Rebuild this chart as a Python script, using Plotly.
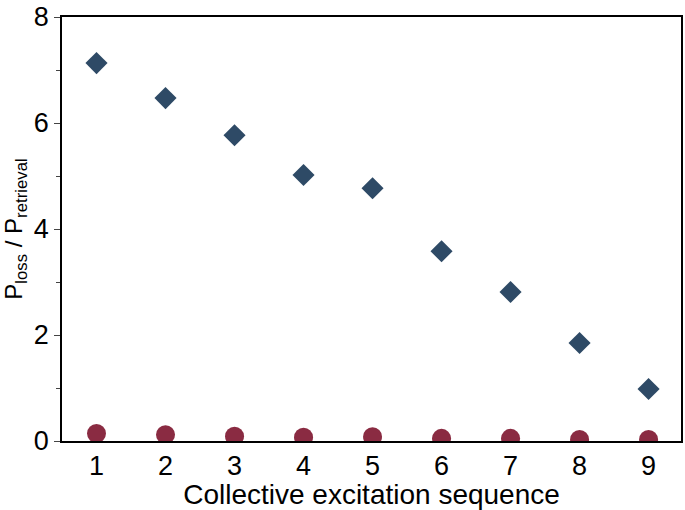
import plotly.graph_objects as go

seq = [1, 2, 3, 4, 5, 6, 7, 8, 9]
ratio_diamond = [7.13, 6.47, 5.77, 5.02, 4.77, 3.58, 2.81, 1.85, 0.98]
ratio_circle = [0.14, 0.12, 0.09, 0.07, 0.08, 0.05, 0.05, 0.03, 0.03]

fig = go.Figure()
fig.add_trace(go.Scatter(x=seq, y=ratio_diamond, mode="markers",
                         marker=dict(symbol="diamond", size=17, color="#2E4A66")))
fig.add_trace(go.Scatter(x=seq, y=ratio_circle, mode="markers",
                         marker=dict(symbol="circle", size=19, color="#8A2B42")))

fam = "Liberation Sans, Arial, sans-serif"
tickfont = dict(family=fam, size=27, color="black")
fig.update_layout(
    width=685, height=510,
    margin=dict(l=62, r=4, t=17, b=69, autoexpand=False),
    paper_bgcolor="white", plot_bgcolor="white",
    showlegend=False, font=dict(family=fam, color="black"),
    xaxis=dict(range=[0.5, 9.47], tickvals=seq, ticks="", showgrid=False, zeroline=False,
               showline=True, linecolor="black", linewidth=1.5, mirror=True, automargin=False,
               title=dict(text="Collective excitation sequence", standoff=0,
                          font=dict(family=fam, size=28, color="black")),
               tickfont=tickfont),
    yaxis=dict(range=[0, 8], tickvals=[0, 2, 4, 6, 8], ticks="outside", ticklen=6, tickwidth=1.2,
               minor=dict(tickvals=[1, 3, 5, 7], ticks="outside", ticklen=4, tickwidth=1.2),
               showgrid=False, zeroline=False, automargin=False,
               showline=True, linecolor="black", linewidth=1.5, mirror=True,
               title=dict(text="P<sub>loss</sub> / P<sub>retrieval</sub>", standoff=4,
                          font=dict(family=fam, size=24, color="black")),
               tickfont=tickfont),
)
fig.write_html("out.html", config={"displayModeBar": False},
               post_script="document.body.style.margin='0';")
